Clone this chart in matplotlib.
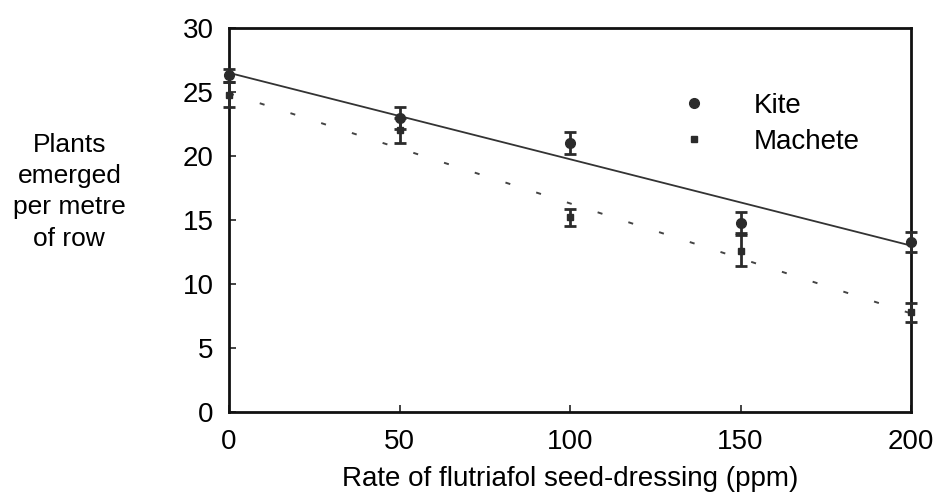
import matplotlib
matplotlib.use("Agg")
import matplotlib.pyplot as plt
import numpy as np

plt.rcParams['font.family'] = ['Liberation Sans', 'DejaVu Sans']

rates = [0, 50, 100, 150, 200]
kite = [26.3, 23.0, 21.0, 14.8, 13.3]
kite_err = [0.5, 0.85, 0.85, 0.8, 0.8]
machete = [24.8, 22.0, 15.2, 12.6, 7.8]
machete_err = [1.0, 1.0, 0.7, 1.2, 0.75]
kite_fit = [26.5, 13.0]
machete_fit = [24.9, 7.7]
fit_x = [0, 200]
xticks = [0, 50, 100, 150, 200]
yticks = [0, 5, 10, 15, 20, 25, 30]

FS = 20

fig = plt.figure(figsize=(9.37, 4.92), dpi=100)
ax = fig.add_axes([0.2444, 0.1626, 0.9723 - 0.2444, 0.943 - 0.1626])

ax.plot(fit_x, kite_fit, color='#333333', lw=1.3, solid_capstyle='butt', zorder=2)
ax.plot(fit_x, machete_fit, color='#444444', lw=1.4, dashes=(2.6, 14), zorder=2)

k = ax.errorbar(rates, kite, yerr=kite_err, fmt='o', color='#2b2b2b', ms=7,
                elinewidth=2, capsize=4.5, capthick=2, zorder=3, label='Kite')
m = ax.errorbar(rates, machete, yerr=machete_err, fmt='s', color='#2b2b2b', ms=4,
                elinewidth=2, capsize=4.5, capthick=2, zorder=3, label='Machete')
for c in (k, m):
    for art in c.get_children():
        art.set_clip_on(False)

ax.set_xlim(0, 200)
ax.set_ylim(0, 30)
ax.set_xticks(xticks)
ax.set_yticks(yticks)
ax.tick_params(direction='in', length=5, width=1.2, labelsize=FS, color='#222222')
ax.tick_params(axis='x', pad=12)
ax.tick_params(axis='y', pad=11)
for s in ax.spines.values():
    s.set_linewidth(2)
    s.set_color('#111111')

ax.set_xlabel('Rate of flutriafol seed-dressing (ppm)', fontsize=FS, labelpad=8)
fig.text(0.074, 0.61, 'Plants\nemerged\nper metre\nof row', ha='center', va='center',
         fontsize=19, linespacing=1.38)

handles, labels = ax.get_legend_handles_labels()
handles = [h[0] for h in handles]
leg = ax.legend(handles, labels, loc='upper left', bbox_to_anchor=(0.633, 0.896),
                frameon=False, fontsize=FS, handlelength=0.6, handletextpad=1.85,
                labelspacing=0.36, numpoints=1)

fig.savefig('out.png', dpi=100)
